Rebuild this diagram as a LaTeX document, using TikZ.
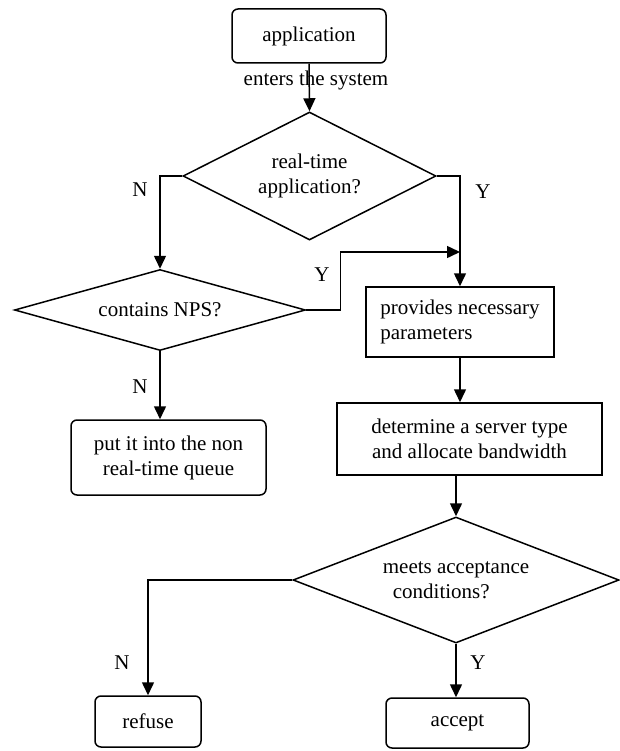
\documentclass[tikz,border=0pt]{standalone}
\usepackage{fontspec}
\setmainfont{Liberation Serif}
\usetikzlibrary{shapes.geometric,arrows.meta}
\begin{document}
\begin{tikzpicture}[x=1pt,y=-1pt,
  every node/.style={font=\fontsize{21}{25}\selectfont},
  rbox/.style={draw,line width=1.5pt,rounded corners=6pt,inner sep=0pt},
  sbox/.style={draw,line width=1.5pt,inner sep=0pt},
  dia/.style={draw,line width=1.5pt,diamond,inner sep=0pt,align=center},
  arr/.style={line width=1.5pt,-{Triangle[length=13pt,width=12pt]}},
  lbl/.style={inner sep=0pt}]
\useasboundingbox (0,0) rectangle (619,751);
\node[rbox,minimum width=154pt,minimum height=54pt] (app) at (309,36) {application};
\node[dia,aspect=2,minimum width=253pt,minimum height=128pt] (d1) at (309.5,176) {real-time\\application?};
\node[dia,aspect=3.6,minimum width=291pt,minimum height=81pt] (d2) at (160,310) {contains NPS?};
\node[sbox,minimum width=188pt,minimum height=70pt,align=left] (prov) at (460,322) {provides necessary\\parameters};
\node[sbox,minimum width=265pt,minimum height=72pt,align=center] (det) at (469.5,439) {determine a server type\\and allocate bandwidth};
\node[rbox,minimum width=195pt,minimum height=75pt,align=center] (put) at (168.5,457.5) {put it into the non\\real-time queue};
\node[dia,aspect=2.6,minimum width=326pt,minimum height=126pt,align=left] (d3) at (456,580) {meets acceptance\\\hspace*{10pt}conditions?};
\node[rbox,minimum width=106pt,minimum height=51pt] (ref) at (148,721.5) {refuse};
\node[rbox,minimum width=143pt,minimum height=50pt] (acc) at (457.5,723) {accept};
\coordinate (j) at (460,252);
% connectors
\draw[arr] (app.south) -- (d1.north);
\node[lbl] (l0) at (316,80) {enters the system};
\draw[arr] (d1.west) -| (d2.north);
\draw[arr] (d1.east) -| (prov.north);
\draw[arr] (d2.east) -- ++(34,0) |- (j);
\draw[arr] (d2.south) -- (d2.south |- put.north);
\draw[arr] (prov.south) -- (prov.south |- det.north);
\draw[arr] (d3.north |- det.south) -- (d3.north);
\draw[arr] (d3.west) -| (ref.north);
\draw[arr] (d3.south) -- (d3.south |- acc.north);
% labels
\node[lbl] (l1) at (140,190) {N};
\node[lbl] (l2) at (483,192) {Y};
\node[lbl] (l3) at (322,275) {Y};
\node[lbl] (l4) at (140,387) {N};
\node[lbl] (l5) at (122,663) {N};
\node[lbl] (l6) at (478,663) {Y};
\end{tikzpicture}
\end{document}
